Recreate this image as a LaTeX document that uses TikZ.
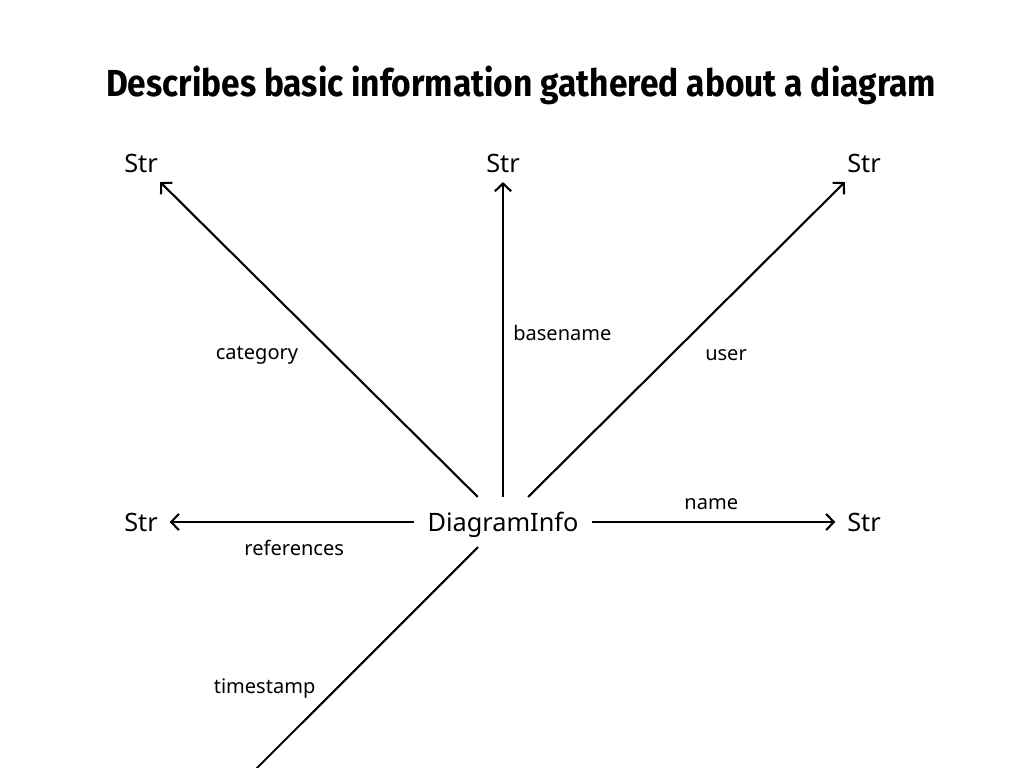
\documentclass[tikz,border=0pt]{standalone}
\usepackage{fontspec}
\setmainfont{Noto Sans}
\newfontfamily\titlefont{Fira Sans}
\usetikzlibrary{arrows.meta}
\tikzset{
every picture/.style={
line width=0.6pt
}}

\begin{document}
\begin{tikzpicture}[x=0.01cm,y=-0.01cm,->,>={Straight Barb[length=2.2pt,width=4.6pt]},semithick,
  type/.style={inner xsep=3.6pt,inner ysep=2.45pt,text height=6.94pt,text depth=1.8pt,font=\fontsize{7.2}{8.5}\selectfont},
  leaf/.style={type,inner xsep=3.1pt,inner ysep=0.75pt},
  field/.style={font=\fontsize{5.7}{7}\selectfont}]
\useasboundingbox (0,0) rectangle (1024,768);
\clip (0,0) rectangle (1024,768);

\node (title) at (521,85) {\resizebox{236pt}{\height}{\titlefont\bfseries\fontsize{10.7}{12}\selectfont Describes basic information gathered about a diagram}};

\node[type] (info) at (503,522) {DiagramInfo};
\node[leaf] (strCategory) at (141,163) {Str};
\node[leaf] (strBasename) at (503,163) {Str};
\node[leaf] (strUser) at (864,163) {Str};
\node[leaf] (strRefs) at (141,522) {Str};
\node[leaf] (strName) at (864,522) {Str};
\coordinate (strTime) at (163,862);

\path (info) edge node[field,pos=.45,left=6.8pt] {category} (strCategory)
(info) edge node[field,pos=.52,right=-0.7pt] {basename} (strBasename)
(info) edge node[field,pos=.45,right=6.2pt] {user} (strUser)
(info) edge node[field,pos=.49,below=1.5pt] {references} (strRefs)
(info) edge node[field,pos=.49,above=-0.2pt] {name} (strName)
(info) edge node[field,pos=.45,left=2.3pt] {timestamp} (strTime)
;
\end{tikzpicture}
\end{document}
